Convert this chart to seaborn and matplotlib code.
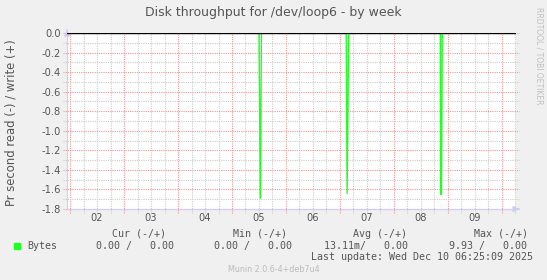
import numpy as np
import pandas as pd
import matplotlib
matplotlib.use("Agg")
import matplotlib.pyplot as plt
import seaborn as sns
from matplotlib.patches import Rectangle

# ---- data ----
# time in days of December (Dec 2 00:00 = 2.0)
times = [1.944, 5.500, 5.524, 5.545, 7.115, 7.132, 7.160, 7.170,
         8.858, 8.866, 8.880, 8.893, 8.900, 10.26]
read_vals = [0.0, 0.0, -1.69, 0.0, 0.0, -1.64, -0.03, 0.0,
             0.0, -1.65, -1.65, -0.03, 0.0, 0.0]
day_labels = ["02", "03", "04", "05", "06", "07", "08", "09"]
day_label_pos = [2.5, 3.5, 4.5, 5.5, 6.5, 7.5, 8.5, 9.5]
y_ticks = [0.0, -0.2, -0.4, -0.6, -0.8, -1.0, -1.2, -1.4, -1.6, -1.8]
y_ticklabels = ["0.0", "-0.2", "-0.4", "-0.6", "-0.8", "-1.0", "-1.2", "-1.4", "-1.6", "-1.8"]
legend_headers = ["Cur (-/+)", "Min (-/+)", "Avg (-/+)", "Max (-/+)"]
legend_values = ["0.00 /   0.00", "0.00 /   0.00", "13.11m/   0.00", "9.93 /   0.00"]
series_name = "Bytes"
title = "Disk throughput for /dev/loop6 - by week"
ylabel = "Pr second read (-) / write (+)"
last_update = "Last update: Wed Dec 10 06:25:09 2025"
munin_ver = "Munin 2.0.6-4+deb7u4"

df = pd.DataFrame({"t": times, "v": read_vals})

sns.set_theme(style="white")
plt.rcParams['font.family'] = ['DejaVu Sans']

W, H = 547, 280
fig = plt.figure(figsize=(W / 100, H / 100), dpi=100, facecolor="#F0F0F0")
L, R, T, B = 67, 516, 33, 209
ax = fig.add_axes([L / W, 1 - B / H, (R - L) / W, (B - T) / H])
ax.set_facecolor("white")

xmin, xmax = 1.944, 10.26
ymin, ymax = -1.8, 0.0
ax.set_xlim(xmin, xmax)
ax.set_ylim(ymin, ymax)

green = "#22FF22"
red_grid = "#EE9999"
gray_grid = "#CCCCCC"
dots = (0, (1, 1))

# grid lines
for xv in np.arange(2.0, 10.3, 0.25):
    if xv < xmin or xv > xmax:
        continue
    major = abs(xv - round(xv)) < 1e-6
    ax.plot([xv, xv], [-0.02, 1.0], transform=ax.get_xaxis_transform(),
            color=red_grid if major else gray_grid, lw=0.8, ls=dots,
            clip_on=False, zorder=1)
for yv in np.arange(-1.8, 0.001, 0.1):
    major = abs(yv * 5 - round(yv * 5)) < 1e-6
    ax.plot([-0.008, 1.006], [yv, yv], transform=ax.get_yaxis_transform(),
            color=red_grid if major else gray_grid, lw=0.8, ls=dots,
            clip_on=False, zorder=1)

sns.lineplot(data=df, x="t", y="v", ax=ax, color=green, lw=1.0,
             estimator=None, sort=False, legend=False, zorder=3)
ax.axhline(0, color="black", lw=1.0, zorder=4)

ax.set_xticks(day_label_pos)
ax.set_xticklabels(day_labels)
ax.set_yticks(y_ticks)
ax.set_yticklabels(y_ticklabels)
ax.tick_params(axis="both", length=0, labelsize=7.1, colors="#555555")
ax.tick_params(axis="y", pad=4.5)
ax.tick_params(axis="x", pad=3)
ax.set_xlabel("")
ax.set_ylabel("")

for s in ["top", "right"]:
    ax.spines[s].set_visible(False)
axis_col = "#CCCCF5"
ax.spines["left"].set_color(axis_col)
ax.spines["bottom"].set_color(axis_col)
ax.spines["left"].set_linewidth(0.8)
ax.spines["bottom"].set_linewidth(0.8)

# arrows at axis ends
ax.annotate("", xy=(0, 1 + 6 / (B - T)), xytext=(0, 1.0), xycoords="axes fraction",
            arrowprops=dict(arrowstyle="-|>,head_length=0.3,head_width=0.15",
                            color=axis_col, lw=0.8))
ax.annotate("", xy=(1 + 6 / (R - L), 0), xytext=(1.0, 0), xycoords="axes fraction",
            arrowprops=dict(arrowstyle="-|>,head_length=0.3,head_width=0.15",
                            color=axis_col, lw=0.8))

# titles / labels
fig.text(273.5 / W, 1 - 12.5 / H, title, ha="center", va="center",
         fontsize=9, color="#555555")
fig.text(11 / W, 1 - 123 / H, ylabel, ha="center", va="center",
         rotation=90, fontsize=8.4, color="#555555")
fig.text(539 / W, 1 - 56 / H, "RRDTOOL / TOBI OETIKER", ha="center", va="center",
         rotation=270, fontsize=5.5, color="#C0C0C0")

mono = dict(family="DejaVu Sans Mono", fontsize=7.2, color="#555555", va="center", ha="left")
hdr_x = [112, 232.7, 352.7, 473.7]
val_x = [96, 213.7, 324, 449]
for hx, h in zip(hdr_x, legend_headers):
    fig.text(hx / W, 1 - 234 / H, h, **mono)
for vx, v in zip(val_x, legend_values):
    fig.text(vx / W, 1 - 245.7 / H, v, **mono)
fig.text(27 / W, 1 - 245.7 / H, series_name, **mono)
fig.patches.append(Rectangle((14 / W, 1 - 248.7 / H), 6 / W, 6 / H,
                             transform=fig.transFigure, color=green, figure=fig))
fig.text(533.3 / W, 1 - 257.3 / H, last_update,
         **{**mono, "ha": "right"})
fig.text(274 / W, 1 - 269 / H, munin_ver, ha="center", va="center",
         fontsize=5.8, color="#BBBBBB")

fig.savefig("out.png", dpi=100, facecolor=fig.get_facecolor())
